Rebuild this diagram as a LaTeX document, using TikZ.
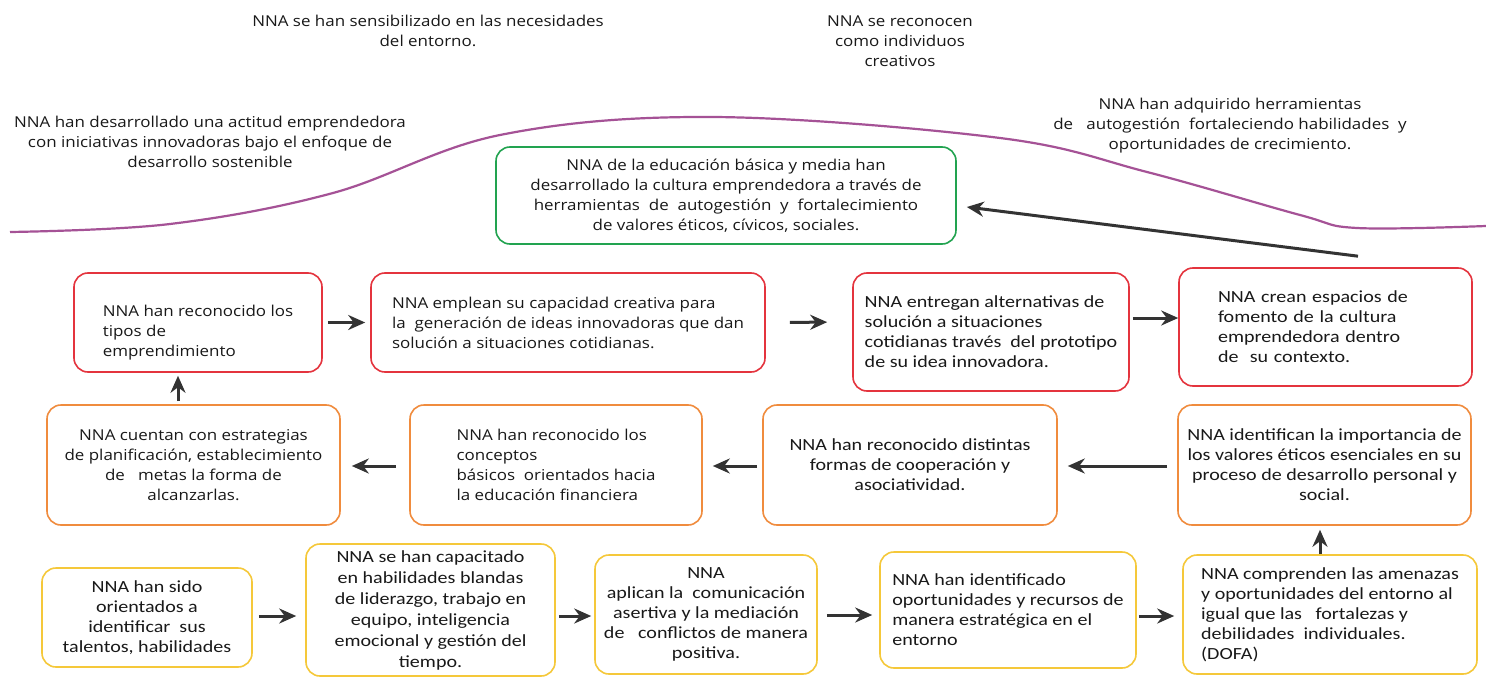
\documentclass[tikz,border=0pt]{standalone}
\usepackage{fontspec}
\setmainfont{Carlito}[FakeStretch=1.18]
\newfontfamily\corbel{Open Sans}[FakeStretch=1.13]
\usetikzlibrary{arrows.meta}
\definecolor{goalgreen}{RGB}{34,163,80}
\definecolor{stagered}{RGB}{228,52,62}
\definecolor{stageorange}{RGB}{240,140,62}
\definecolor{stageyellow}{RGB}{245,200,58}
\definecolor{curvepurple}{RGB}{165,82,150}
\definecolor{arrowgray}{RGB}{51,51,51}

\begin{document}
\begin{tikzpicture}[x=1pt,y=-1pt,
    every node/.style={font=\fontsize{17}{20}\selectfont, align=center, text=black!90},
    wide/.style={font=\corbel\fontsize{15}{20}\selectfont},
    stage/.style={draw, rounded corners=14pt, line width=1.6pt, inner sep=0pt},
    flow/.style={-{Stealth[length=17pt,width=15pt]}, line width=3pt, arrowgray}]
    \useasboundingbox[fill=white] (0,0) rectangle (1486,677);

    % top texts
    \node[wide] (a) at (428,31) {NNA se han sensibilizado en las necesidades\\ del entorno.};
    \node[wide] (b) at (900,41) {NNA se reconocen\\ como individuos\\ creativos};
    \node[wide] (c) at (210,142) {NNA han desarrollado una actitud emprendedora\\ con iniciativas innovadoras bajo el enfoque de\\ desarrollo sostenible};
    \node[wide] (d) at (1230,126) {NNA han adquirido herramientas\\ de \ \ autogestión \ fortaleciendo habilidades \ y\\ oportunidades de crecimiento.};
    \draw[curvepurple, line width=2.2pt] plot[smooth, tension=0.6] coordinates {(10,232) (170,224) (333,193) (500,135) (713,117) (1000,138) (1147,172) (1300,215) (1357,228) (1486,226)};

    % goal
    \node[stage, wide, draw=goalgreen, minimum width=460, minimum height=97] (0) at (726,195.5) {NNA de la educación básica y media han\\ desarrollado la cultura emprendedora a través de\\ herramientas \ de \ autogestión \ y \ fortalecimiento\\ de valores éticos, cívicos, sociales.};

    % red row
    \node[stage, wide, draw=stagered, minimum width=248, minimum height=99, align=left] (1) at (198,322.5) {\rule{0pt}{31pt}NNA han reconocido los\\ tipos de\\ emprendimiento};
    \node[stage, wide, draw=stagered, minimum width=394, minimum height=99, align=left] (2) at (568,322.5) {NNA emplean su capacidad creativa para\\ la \ generación de ideas innovadoras que dan\\ solución a situaciones cotidianas.};
    \node[stage, draw=stagered, minimum width=276, minimum height=118, align=left] (3) at (991,332) {NNA entregan alternativas de\\ solución a situaciones\\ cotidianas través \ del prototipo\\ de su idea innovadora.};
    \node[stage, draw=stagered, minimum width=293, minimum height=118, text width=215, align=left] (4) at (1325.5,327) {NNA crean espacios de\\ fomento de la cultura\\ emprendedora dentro\\ de \ su contexto.};

    % orange row
    \node[stage, wide, draw=stageorange, minimum width=293, minimum height=120] (5) at (193.5,465) {NNA cuentan con estrategias\\ de planificación, establecimiento\\ de \ \ metas la forma de\\ alcanzarlas.};
    \node[stage, wide, draw=stageorange, minimum width=292, minimum height=120, align=left] (6) at (556,465) {NNA han reconocido los\\ conceptos\\ básicos \ orientados hacia\\ la educación financiera};
    \node[stage, draw=stageorange, minimum width=294, minimum height=120] (7) at (910,465) {NNA han reconocido distintas\\ formas de cooperación y\\ asociatividad.};
    \node[stage, draw=stageorange, minimum width=293, minimum height=120] (8) at (1324.5,465) {NNA identifican la importancia de\\ los valores éticos esenciales en su\\ proceso de desarrollo personal y\\ social.};

    % yellow row
    \node[stage, draw=stageyellow, minimum width=294, minimum height=119, align=left] (9) at (1330,614.5) {NNA comprenden las amenazas\\ y oportunidades del entorno al\\ igual que las \ \ fortalezas y\\ debilidades \ individuales.\\ (DOFA)};
    \node[stage, draw=stageyellow, minimum width=256, minimum height=116, align=left] (10) at (1008,610) {NNA han identificado\\ oportunidades y recursos de\\ manera estratégica en el\\ entorno};
    \node[stage, draw=stageyellow, minimum width=222, minimum height=119] (11) at (706,614.5) {NNA\\ aplican la \ comunicación\\ asertiva y la mediación\\ de \ \ conflictos de manera\\ positiva.};
    \node[stage, draw=stageyellow, minimum width=249, minimum height=132, font=\fontsize{17}{21}\selectfont] (12) at (430.5,610) {NNA se han capacitado\\ en habilidades blandas\\ de liderazgo, trabajo en\\ equipo, inteligencia\\ emocional y gestión del\\ tiempo.};
    \node[stage, draw=stageyellow, minimum width=210, minimum height=99] (13) at (147,617.5) {NNA han sido\\ orientados a\\ identificar \ sus\\ talentos, habilidades};

    \path
    (1) [flow] edge [shorten <=5pt, shorten >=5pt] (2)
    (2.east) [flow] edge [shorten <=24pt, shorten >=25pt] ([yshift=10pt]3.west)
    ([yshift=14pt]3.east) [flow] edge [shorten <=3pt] ([yshift=9pt]4.west)
    ([xshift=32.5pt,yshift=11pt]4.north) [flow] edge ([xshift=10pt,yshift=-11.5pt]0.east)

    ([xshift=-15.5pt]5.north) [flow] edge [shorten <=3pt, shorten >=3pt] ([xshift=-20pt]1.south)
    ([yshift=-1pt]6.west) [flow] edge [shorten <=13pt, shorten >=11pt] ([yshift=-1pt]5.east)
    ([yshift=-1pt]7.west) [flow] edge [shorten <=5pt, shorten >=10pt] ([yshift=-1pt]6.east)
    ([yshift=-1pt]8.west) [flow] edge [shorten <=10pt, shorten >=10pt] ([yshift=-1pt]7.east)
    ([xshift=-10pt]9.north) [flow] edge [shorten >=4pt] ([xshift=-4.5pt]8.south)

    ([yshift=1.5pt]13.east) [flow] edge [shorten <=6pt, shorten >=9pt] ([yshift=-6pt]12.west)
    ([yshift=-6pt]12.east) [flow] edge [shorten <=3pt, shorten >=3pt] ([yshift=-1.5pt]11.west)
    ([yshift=-0.5pt]11.east) [flow] edge [shorten <=9pt, shorten >=7pt] ([yshift=-5pt]10.west)
    ([yshift=-6pt]10.east) [flow] edge [shorten <=2pt, shorten >=8pt] ([yshift=-1.5pt]9.west);
\end{tikzpicture}
\end{document}
